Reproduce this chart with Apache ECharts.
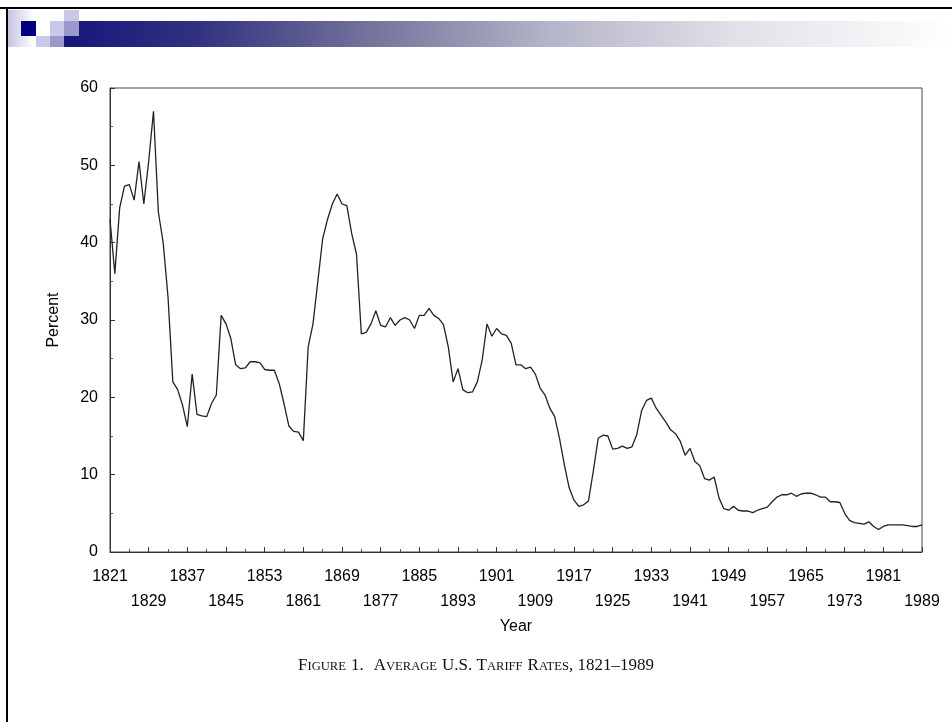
<!DOCTYPE html>
<html>
<head>
<meta charset="utf-8">
<script src="https://cdn.jsdelivr.net/npm/echarts@6/dist/echarts.min.js"></script>
<style>
html,body{margin:0;padding:0;background:#fff;}
#chart{width:952px;height:722px;}
</style>
</head>
<body>
<div id="chart"></div>
<script>
const years = [
1821,1822,1823,1824,1825,1826,1827,1828,1829,1830,
1831,1832,1833,1834,1835,1836,1837,1838,1839,1840,
1841,1842,1843,1844,1845,1846,1847,1848,1849,1850,
1851,1852,1853,1854,1855,1856,1857,1858,1859,1860,
1861,1862,1863,1864,1865,1866,1867,1868,1869,1870,
1871,1872,1873,1874,1875,1876,1877,1878,1879,1880,
1881,1882,1883,1884,1885,1886,1887,1888,1889,1890,
1891,1892,1893,1894,1895,1896,1897,1898,1899,1900,
1901,1902,1903,1904,1905,1906,1907,1908,1909,1910,
1911,1912,1913,1914,1915,1916,1917,1918,1919,1920,
1921,1922,1923,1924,1925,1926,1927,1928,1929,1930,
1931,1932,1933,1934,1935,1936,1937,1938,1939,1940,
1941,1942,1943,1944,1945,1946,1947,1948,1949,1950,
1951,1952,1953,1954,1955,1956,1957,1958,1959,1960,
1961,1962,1963,1964,1965,1966,1967,1968,1969,1970,
1971,1972,1973,1974,1975,1976,1977,1978,1979,1980,
1981,1982,1983,1984,1985,1986,1987,1988,1989
];
const tariffRates = [
43.0,36.0,44.5,47.3,47.5,45.5,50.5,45.0,50.5,57.0,
44.0,40.0,33.0,22.0,21.0,19.0,16.2,23.0,17.8,17.6,
17.5,19.2,20.3,30.6,29.5,27.6,24.2,23.7,23.8,24.6,
24.6,24.5,23.6,23.5,23.5,21.8,19.2,16.3,15.6,15.5,
14.4,26.5,29.5,35.0,40.5,43.0,45.0,46.3,45.0,44.8,
41.2,38.5,28.2,28.4,29.5,31.2,29.3,29.1,30.3,29.3,
30.0,30.3,30.0,28.9,30.6,30.6,31.5,30.6,30.2,29.4,
26.5,22.0,23.7,21.0,20.6,20.7,22.0,24.8,29.5,27.9,
28.9,28.2,28.0,27.0,24.2,24.2,23.7,23.9,23.0,21.2,
20.3,18.6,17.5,14.7,11.3,8.3,6.7,5.9,6.1,6.6,
10.5,14.7,15.1,15.0,13.3,13.4,13.7,13.4,13.6,15.2,
18.3,19.6,19.9,18.6,17.7,16.8,15.8,15.3,14.3,12.5,
13.4,11.7,11.2,9.5,9.3,9.7,7.0,5.6,5.4,5.9,
5.4,5.3,5.3,5.1,5.4,5.6,5.8,6.5,7.1,7.4,
7.4,7.6,7.2,7.5,7.6,7.6,7.4,7.1,7.1,6.5,
6.5,6.4,5.0,4.1,3.8,3.7,3.6,3.9,3.3,2.9,
3.3,3.5,3.5,3.5,3.5,3.4,3.3,3.3,3.5
];
const xTickYears = [1821,1829,1837,1845,1853,1861,1869,1877,1885,1893,1901,1909,1917,1925,1933,1941,1949,1957,1965,1973,1981,1989];
const yTicks = [0,10,20,30,40,50,60];
const yAxisName = 'Percent';
const xAxisName = 'Year';

const seriesData = years.map((y, i) => [y, tariffRates[i]]);

const chart = echarts.init(document.getElementById('chart'), null, {renderer: 'canvas'});
const sans = '"Liberation Sans", Arial, sans-serif';
const serif = '"Liberation Serif", "Times New Roman", serif';

const option = {
  backgroundColor: '#ffffff',
  animation: false,
  title: {
    text: '{c|F}{s|IGURE} {c|1.}  {c|A}{s|VERAGE} {c|U.S. T}{s|ARIFF} {c|R}{s|ATES}{c|, 1821–1989}',
    left: 'center',
    top: 649,
    textStyle: {
      fontWeight: 'normal',
      rich: {
        c: {fontFamily: serif, fontSize: 17, fontWeight: 'normal', color: '#111', verticalAlign: 'bottom', lineHeight: 20},
        s: {fontFamily: serif, fontSize: 12.6, fontWeight: 'normal', color: '#111', verticalAlign: 'bottom', lineHeight: 20, padding: [0,0,1,0]}
      }
    }
  },
  graphic: [
    {type: 'rect', shape: {x: 0, y: 7, width: 952, height: 2}, style: {fill: '#000'}},
    {type: 'rect', shape: {x: 6, y: 7, width: 2, height: 715}, style: {fill: '#000'}},
    {type: 'rect', shape: {x: 8, y: 10, width: 26, height: 37},
      style: {fill: new echarts.graphic.LinearGradient(0,0,1,0,[{offset:0,color:'#c4c4e2'},{offset:1,color:'#ffffff'}])}},
    {type: 'rect', shape: {x: 64, y: 21, width: 888, height: 26},
      style: {fill: new echarts.graphic.LinearGradient(0,0,1,0,[
        {offset:0,color:'#16167c'},
        {offset:0.15,color:'#313180'},
        {offset:0.35,color:'#75759c'},
        {offset:0.55,color:'#b5b5ca'},
        {offset:0.75,color:'#e0e0e8'},
        {offset:1,color:'#ffffff'}])}},
    {type: 'rect', shape: {x: 21, y: 21, width: 15, height: 15}, style: {fill: '#000080'}},
    {type: 'rect', shape: {x: 36, y: 36, width: 14, height: 11}, style: {fill: '#c8c8e8'}},
    {type: 'rect', shape: {x: 50, y: 36, width: 14, height: 11}, style: {fill: '#9999cc'}},
    {type: 'rect', shape: {x: 50, y: 21, width: 14, height: 15}, style: {fill: '#c8c8e8'}},
    {type: 'rect', shape: {x: 64, y: 21, width: 15, height: 15}, style: {fill: '#9999cc'}},
    {type: 'rect', shape: {x: 64, y: 10, width: 15, height: 11}, style: {fill: '#c8c8e6'}}
  ],
  grid: {
    left: 110, right: 30, top: 88, bottom: 170,
    show: true, borderColor: '#444', borderWidth: 1, backgroundColor: 'transparent'
  },
  xAxis: {
    type: 'value',
    min: 1821, max: 1989, interval: 8,
    name: xAxisName,
    nameLocation: 'middle',
    nameGap: 62,
    nameTextStyle: {fontFamily: sans, fontSize: 16, color: '#000'},
    axisLine: {show: true, lineStyle: {color: '#333', width: 1}},
    axisTick: {show: true, inside: true, length: 5, lineStyle: {color: '#333'}},
    minorTick: {show: true, splitNumber: 2, length: 3, lineStyle: {color: '#555'}},
    splitLine: {show: false},
    axisLabel: {
      fontFamily: sans, fontSize: 16, color: '#000', margin: 12, lineHeight: 25,
      formatter: function (v) {
        const idx = xTickYears.indexOf(v);
        if (idx < 0) return '';
        return idx % 2 ? '\n' + v : String(v);
      }
    }
  },
  yAxis: {
    type: 'value',
    min: 0, max: 60, interval: 10,
    name: yAxisName,
    nameLocation: 'middle',
    nameGap: 48,
    nameRotate: 90,
    nameTextStyle: {fontFamily: sans, fontSize: 16, color: '#000'},
    axisLine: {show: true, lineStyle: {color: '#333', width: 1}},
    axisTick: {show: true, inside: true, length: 5, lineStyle: {color: '#333'}},
    minorTick: {show: true, splitNumber: 2, length: 3, lineStyle: {color: '#555'}},
    splitLine: {show: false},
    axisLabel: {
      fontFamily: sans, fontSize: 16, color: '#000', margin: 12,
      formatter: function (v) { return yTicks.indexOf(v) >= 0 ? String(v) : ''; }
    }
  },
  series: [{
    type: 'line',
    data: seriesData,
    showSymbol: false,
    symbol: 'none',
    lineStyle: {color: '#222', width: 1.3},
    silent: true
  }]
};
chart.setOption(option);
</script>
</body>
</html>
